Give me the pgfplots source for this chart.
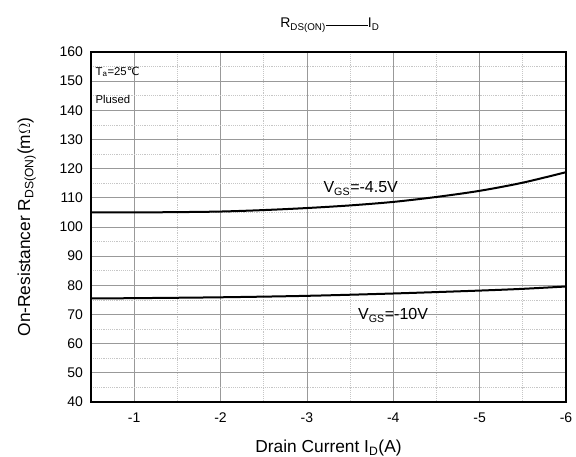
\documentclass[border=0pt]{standalone}
\usepackage{pgfplots}
\pgfplotsset{compat=1.18}
\usepackage{fontspec}
\setmainfont{Liberation Sans}
\newfontfamily\dejavu{DejaVu Sans}

\begin{document}
\begin{tikzpicture}
  % canvas of the reference: 576 x 457 px at 0.75 pt per px
  \path[use as bounding box] (0,0) rectangle (432pt,342.75pt);

  \begin{axis}[
    at={(68.25pt,41.25pt)},
    anchor=south west,
    scale only axis,
    width=356.25pt,
    height=262.5pt,
    x dir=reverse,
    xmin=-6, xmax=-0.5,
    ymin=40, ymax=160,
    xtick={-1,-2,-3,-4,-5,-6},
    ytick={40,50,...,160},
    minor x tick num=1,
    minor y tick num=1,
    grid=both,
    major grid style={gray!80, line width=0.6pt},
    minor grid style={gray!45, densely dotted, line width=0.5pt},
    major tick length=0pt,
    minor tick length=0pt,
    axis line style={line width=1.5pt},
    tick label style={font=\fontsize{10.5}{12}\selectfont},
    yticklabel style={xshift=-2.5pt},
    xticklabel style={yshift=-4.5pt},
    /pgf/number format/assume math mode=true,
    label style={font=\fontsize{13}{15}\selectfont},
    xlabel={Drain Current I\textsubscript{D}(A)},
    xlabel style={at={(axis description cs:0.5,-0.1457)}, anchor=base},
    ylabel={On-Resistancer R\textsubscript{DS(ON)}(m$\Omega$)},
    ylabel style={at={(axis description cs:-0.1284,0.5)}, anchor=base},
    clip=false,
  ]

  % V_GS = -4.5 V
  \addplot[black, line width=1.5pt, smooth] coordinates {
      (-0.5, 105.0)
      (-1.0, 105.0)
      (-1.5, 105.1)
      (-2.0, 105.3)
      (-2.5, 105.8)
      (-3.0, 106.5)
      (-3.5, 107.4)
      (-4.0, 108.6)
      (-4.5, 110.3)
      (-5.0, 112.4)
      (-5.5, 115.2)
      (-6.0, 118.8)
  };

  % V_GS = -10 V
  \addplot[black, line width=1.5pt, smooth] coordinates {
      (-0.5, 75.5)
      (-1.0, 75.6)
      (-2.0, 75.9)
      (-3.0, 76.4)
      (-4.0, 77.2)
      (-5.0, 78.2)
      (-5.5, 78.8)
      (-6.0, 79.6)
  };

  \node[anchor=base west, inner sep=0pt, font=\fontsize{8.5}{10}\selectfont]
    at (axis cs:-0.55,152.1) {T\textsubscript{a}=25{\dejavu ℃}};
  \node[anchor=base west, inner sep=0pt, font=\fontsize{8.5}{10}\selectfont]
    at (axis cs:-0.55,142.2) {Plused};
  \node[anchor=base west, inner sep=0pt, font=\fontsize{12}{14}\selectfont]
    at (axis cs:-3.19,111.7) {V\textsubscript{GS}=-4.5V};
  \node[anchor=base west, inner sep=0pt, font=\fontsize{12}{14}\selectfont]
    at (axis cs:-3.59,68.2) {V\textsubscript{GS}=-10V};
  \end{axis}

  \node[anchor=base, inner sep=0pt, font=\fontsize{10.5}{12}\selectfont]
    at (247.5pt,321.75pt) {R\textsubscript{DS(ON)}\rule[0.35ex]{3em}{0.6pt}I\textsubscript{D}};
\end{tikzpicture}
\end{document}
